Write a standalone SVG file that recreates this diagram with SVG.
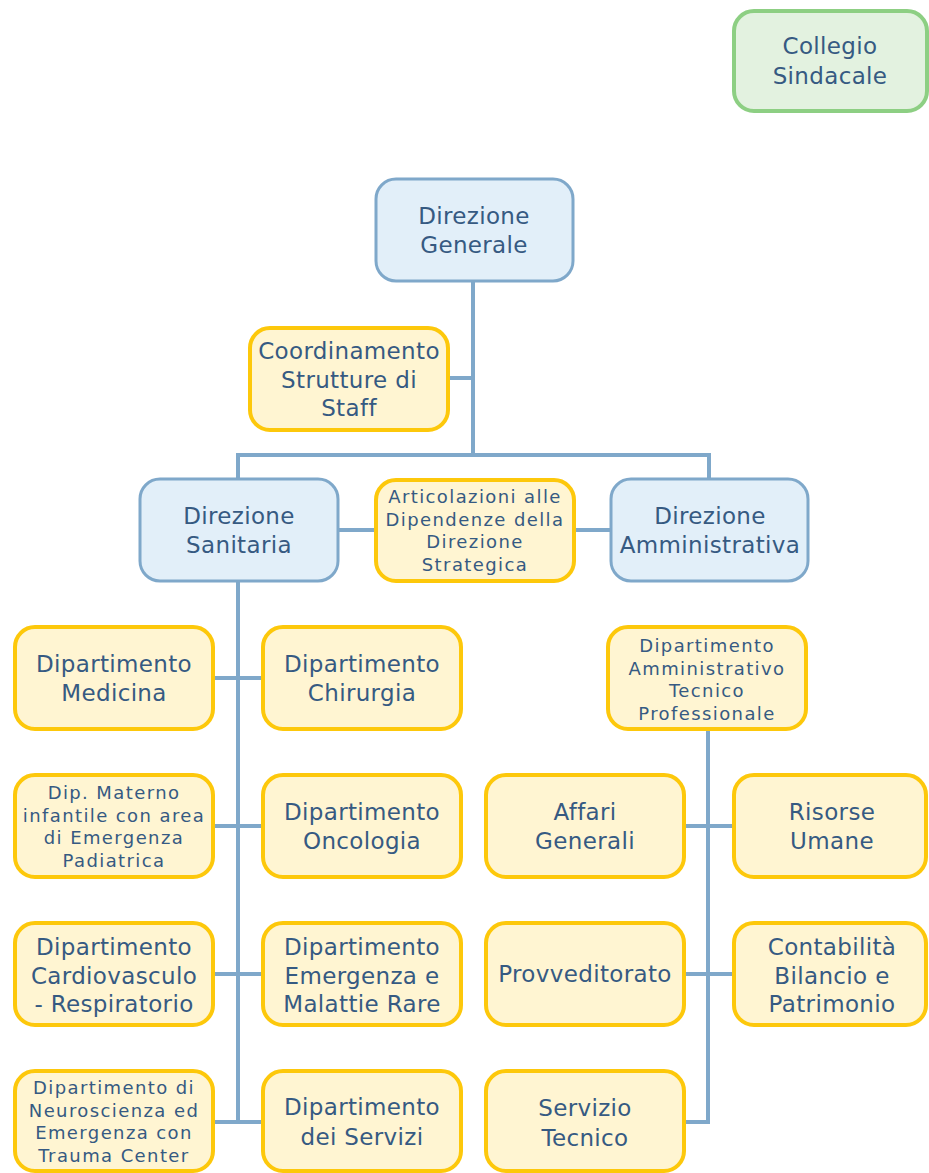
<svg xmlns="http://www.w3.org/2000/svg" width="929" height="1173" viewBox="0 0 929 1173">
<style>
.b{fill:#e2eff9;stroke:#7fa8ca;stroke-width:3}
.y{fill:#fff5d2;stroke:#fdc80b;stroke-width:4}
.g{fill:#e3f2e0;stroke:#8dcf83;stroke-width:4}
text{font-family:"DejaVu Sans",Verdana,sans-serif;fill:#365a82;text-anchor:middle}
.t{font-size:23px;letter-spacing:0.35px}
.s{font-size:18px;letter-spacing:1.4px}
.c{fill:none;stroke:#7fa8ca;stroke-width:4}
</style>
<rect width="929" height="1173" fill="#ffffff"/>
<g id="connectors">
<path class="c" d="M473,281V455M448,378H473M238,455H709M238,453V479M709,453V479M338,530H376M574,530H611M238,581V1124M213,678H263M213,826H263M213,974H263M213,1122H263M708,729V1124M684,826H734M684,974H734M684,1122H710"/>
</g>
<g id="collegio"><rect class="g" x="734" y="11" width="193" height="100" rx="20"/><text class="t"><tspan x="830" y="54">Collegio</tspan><tspan x="830" y="84">Sindacale</tspan></text></g>
<g id="dg"><rect class="b" x="376" y="179" width="197" height="102" rx="20"/><text class="t"><tspan x="474" y="224">Direzione</tspan><tspan x="474" y="253">Generale</tspan></text></g>
<g id="coord"><rect class="y" x="250" y="328" width="198" height="102" rx="20"/><text class="t"><tspan x="349" y="359">Coordinamento</tspan><tspan x="349" y="388">Strutture di</tspan><tspan x="349" y="416">Staff</tspan></text></g>
<g id="dsan"><rect class="b" x="140" y="479" width="198" height="102" rx="20"/><text class="t"><tspan x="239" y="524">Direzione</tspan><tspan x="239" y="553">Sanitaria</tspan></text></g>
<g id="artic"><rect class="y" x="376" y="480" width="198" height="101" rx="20"/><text class="s"><tspan x="475" y="503">Articolazioni alle</tspan><tspan x="475" y="525.5">Dipendenze della</tspan><tspan x="475" y="548">Direzione</tspan><tspan x="475" y="570.5">Strategica</tspan></text></g>
<g id="damm"><rect class="b" x="611" y="479" width="197" height="102" rx="20"/><text class="t"><tspan x="710" y="524">Direzione</tspan><tspan x="710" y="553">Amministrativa</tspan></text></g>
<g id="med"><rect class="y" x="15" y="627" width="198" height="102" rx="20"/><text class="t"><tspan x="114" y="672">Dipartimento</tspan><tspan x="114" y="701">Medicina</tspan></text></g>
<g id="chir"><rect class="y" x="263" y="627" width="198" height="102" rx="20"/><text class="t"><tspan x="362" y="672">Dipartimento</tspan><tspan x="362" y="701">Chirurgia</tspan></text></g>
<g id="mat"><rect class="y" x="15" y="775" width="198" height="102" rx="20"/><text class="s"><tspan x="114" y="799">Dip. Materno</tspan><tspan x="114" y="821.5">infantile con area</tspan><tspan x="114" y="844">di Emergenza</tspan><tspan x="114" y="866.5">Padiatrica</tspan></text></g>
<g id="onc"><rect class="y" x="263" y="775" width="198" height="102" rx="20"/><text class="t"><tspan x="362" y="820">Dipartimento</tspan><tspan x="362" y="849">Oncologia</tspan></text></g>
<g id="card"><rect class="y" x="15" y="923" width="198" height="102" rx="20"/><text class="t"><tspan x="114" y="955">Dipartimento</tspan><tspan x="114" y="983.5">Cardiovasculo</tspan><tspan x="114" y="1012">- Respiratorio</tspan></text></g>
<g id="emerg"><rect class="y" x="263" y="923" width="198" height="102" rx="20"/><text class="t"><tspan x="362" y="955">Dipartimento</tspan><tspan x="362" y="983.5">Emergenza e</tspan><tspan x="362" y="1012">Malattie Rare</tspan></text></g>
<g id="neuro"><rect class="y" x="15" y="1071" width="198" height="100" rx="20"/><text class="s"><tspan x="114" y="1094">Dipartimento di</tspan><tspan x="114" y="1116.5">Neuroscienza ed</tspan><tspan x="114" y="1139">Emergenza con</tspan><tspan x="114" y="1161.5">Trauma Center</tspan></text></g>
<g id="serv"><rect class="y" x="263" y="1071" width="198" height="100" rx="20"/><text class="t"><tspan x="362" y="1115">Dipartimento</tspan><tspan x="362" y="1145">dei Servizi</tspan></text></g>
<g id="datp"><rect class="y" x="608" y="627" width="198" height="102" rx="20"/><text class="s"><tspan x="707" y="652">Dipartimento</tspan><tspan x="707" y="674.5">Amministrativo</tspan><tspan x="707" y="697">Tecnico</tspan><tspan x="707" y="719.5">Professionale</tspan></text></g>
<g id="affari"><rect class="y" x="486" y="775" width="198" height="102" rx="20"/><text class="t"><tspan x="585" y="820">Affari</tspan><tspan x="585" y="849">Generali</tspan></text></g>
<g id="risorse"><rect class="y" x="734" y="775" width="192" height="102" rx="20"/><text class="t"><tspan x="832" y="820">Risorse</tspan><tspan x="832" y="849">Umane</tspan></text></g>
<g id="provv"><rect class="y" x="486" y="923" width="198" height="102" rx="20"/><text class="t"><tspan x="585" y="982">Provveditorato</tspan></text></g>
<g id="contab"><rect class="y" x="734" y="923" width="192" height="102" rx="20"/><text class="t"><tspan x="832" y="955">Contabilità</tspan><tspan x="832" y="983.5">Bilancio e</tspan><tspan x="832" y="1012">Patrimonio</tspan></text></g>
<g id="tecnico"><rect class="y" x="486" y="1071" width="198" height="100" rx="20"/><text class="t"><tspan x="585" y="1116">Servizio</tspan><tspan x="585" y="1146">Tecnico</tspan></text></g>
</svg>
